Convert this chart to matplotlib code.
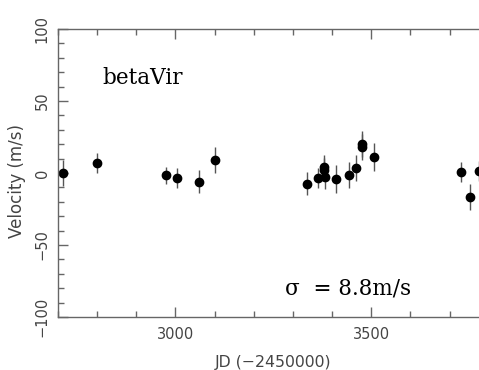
import matplotlib
matplotlib.use("Agg")
import matplotlib.pyplot as plt
from matplotlib.ticker import MultipleLocator

jd = [2712, 2800, 2977, 3005, 3059, 3102, 3335, 3363, 3378, 3378, 3381,
      3411, 3444, 3460, 3475, 3476, 3506, 3728, 3753, 3776]
vel = [0.0, 7.0, -1.5, -3.5, -6.0, 9.0, -7.6, -3.5, 4.2, 2.1, -2.8,
       -4.2, -1.4, 3.5, 18.0, 20.0, 11.1, 0.7, -16.7, 1.4]
err = [9, 7, 6, 7, 8, 9, 8, 7, 8, 8, 8,
       10, 9, 9, 9, 9, 10, 7, 9, 7]

grey = "#555555"
fig = plt.figure(figsize=(4.79, 3.70), dpi=100)
ax = fig.add_axes([58/479, 53/370, 421/479, 288/370])

ax.errorbar(jd, vel, yerr=err, fmt="o", color="black", ms=6,
            ecolor=grey, elinewidth=1.0, capsize=0)

ax.set_xlim(2700, 3775)
ax.set_ylim(-100, 100)
ax.xaxis.set_major_locator(MultipleLocator(500))
ax.xaxis.set_minor_locator(MultipleLocator(100))
ax.yaxis.set_major_locator(MultipleLocator(50))
ax.yaxis.set_minor_locator(MultipleLocator(10))

for s in ["left", "bottom", "top"]:
    ax.spines[s].set_color("#666666")
    ax.spines[s].set_linewidth(1.0)
ax.spines["right"].set_visible(False)

ax.tick_params(which="both", direction="in", top=True, right=False,
               color="#666666", labelcolor="#444444", labelsize=10.5)
ax.tick_params(which="major", length=7, width=1)
ax.tick_params(which="minor", length=4, width=1)
ax.tick_params(axis="x", pad=7)
ax.tick_params(axis="y", pad=6)
for lab in ax.get_yticklabels():
    lab.set_rotation(90)
    lab.set_va("center")

ax.set_xlabel("JD (\u22122450000)", fontsize=11.3, color="#444444")
ax.set_ylabel("Velocity (m/s)", fontsize=12, color="#444444")
ax.xaxis.set_label_coords(0.511, -0.132)
ax.yaxis.set_label_coords(-0.076, 0.472)

ax.text(0.1045, 0.809, "betaVir", transform=ax.transAxes,
        fontsize=15.5, family="DejaVu Serif", color="black")
ax.text(0.539, 0.0764, "\u03c3  = 8.8m/s", transform=ax.transAxes,
        fontsize=15.5, family="DejaVu Serif", color="black")

fig.savefig("out.png", dpi=100)
